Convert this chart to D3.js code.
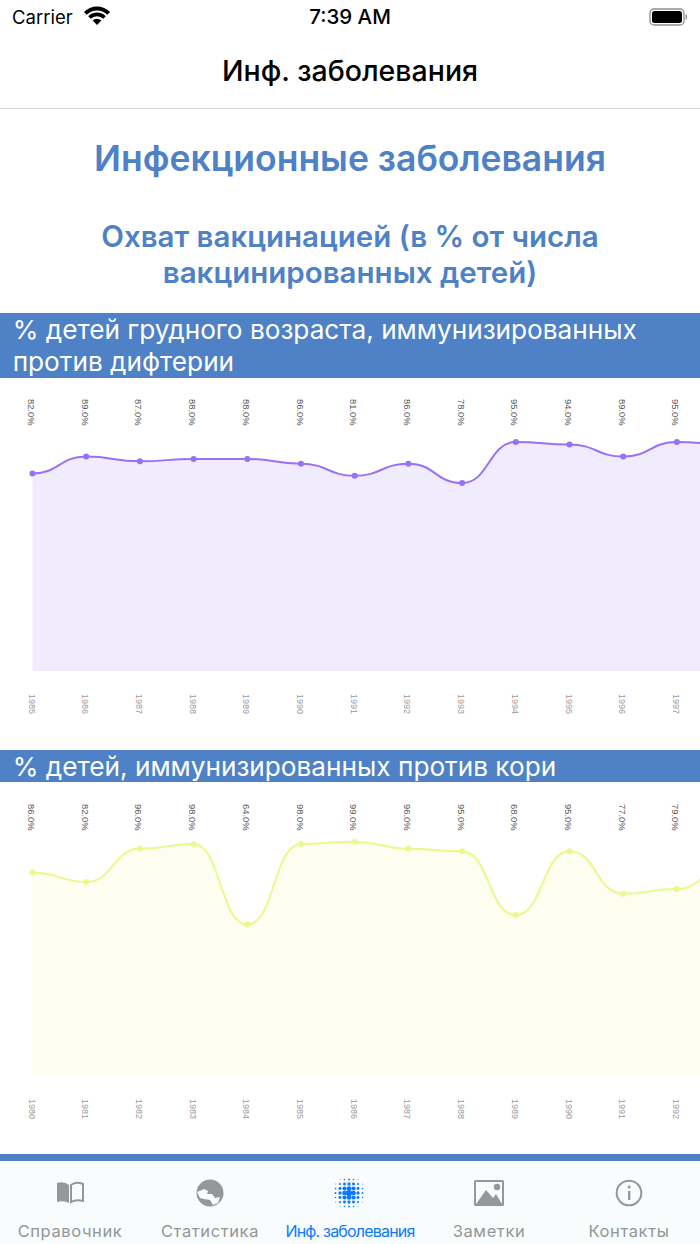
<!DOCTYPE html>
<html>
<head>
<meta charset="utf-8">
<script src="https://cdnjs.cloudflare.com/ajax/libs/d3/7.8.5/d3.min.js"></script>
<style>
  html, body { margin: 0; padding: 0; background: #fff; overflow: hidden; }
  svg { display: block; font-family: Inter, Roboto, "Liberation Sans", sans-serif; }
</style>
</head>
<body>
<div id="plot"></div>
<script>
const w = 700;
const h = 1244;

// first chart, last year is off screen
const years1 = [1985, 1986, 1987, 1988, 1989, 1990, 1991, 1992, 1993, 1994, 1995, 1996, 1997, 1998];
const values1 = [82, 89, 87, 88, 88, 86, 81, 86, 78, 95, 94, 89, 95, 94];

// second chart, same thing
const years2 = [1980, 1981, 1982, 1983, 1984, 1985, 1986, 1987, 1988, 1989, 1990, 1991, 1992, 1993];
const values2 = [86, 82, 96, 98, 64, 98, 99, 96, 95, 68, 95, 77, 79, 90];

const tabLabels = ["Справочник", "Статистика", "Инф. заболевания", "Заметки", "Контакты"];
const blue = "#4f81c6";

const svg = d3.select("div#plot")
  .append("svg")
  .attr("width", w)
  .attr("height", h);

// status bar + nav bar
svg.append("text").attr("x", 12).attr("y", 24).attr("font-size", 18.5).attr("fill", "#000").text("Carrier");
svg.append("text").attr("x", 350).attr("y", 24).attr("text-anchor", "middle").attr("font-size", 20.5)
  .attr("font-weight", 500).attr("fill", "#000").text("7:39 AM");
const wifi = svg.append("g").attr("transform", "translate(97, 25)");
[[14.5, 18.5], [8.8, 12.4], [0, 6.2]].forEach(([r0, r1]) => {
  wifi.append("path")
    .attr("d", d3.arc()({ innerRadius: r0, outerRadius: r1, startAngle: -Math.PI / 4, endAngle: Math.PI / 4 }))
    .attr("fill", "#000");
});
svg.append("rect").attr("x", 650).attr("y", 9).attr("width", 34).attr("height", 16).attr("rx", 4)
  .attr("fill", "none").attr("stroke", "#8e8e8e").attr("stroke-width", 1.3);
svg.append("rect").attr("x", 652).attr("y", 11).attr("width", 30).attr("height", 12).attr("rx", 2.5).attr("fill", "#000");
svg.append("rect").attr("x", 685.5).attr("y", 14.5).attr("width", 1.5).attr("height", 5).attr("fill", "#9a9a9a");
svg.append("text").attr("x", 350).attr("y", 81).attr("text-anchor", "middle").attr("font-size", 28.5)
  .attr("font-weight", 500).attr("fill", "#000").text("Инф. заболевания");
svg.append("rect").attr("y", 108).attr("width", w).attr("height", 1).attr("fill", "#d4d4d4");

// headings
svg.append("text").attr("x", 350).attr("y", 171).attr("text-anchor", "middle").attr("font-size", 35.5)
  .attr("font-weight", 600).attr("fill", blue).text("Инфекционные заболевания");
svg.append("text").attr("x", 350).attr("y", 247).attr("text-anchor", "middle").attr("font-size", 29.5)
  .attr("font-weight", 600).attr("fill", blue).text("Охват вакцинацией (в % от числа");
svg.append("text").attr("x", 350).attr("y", 283).attr("text-anchor", "middle").attr("font-size", 29.5)
  .attr("font-weight", 600).attr("fill", blue).text("вакцинированных детей)");

function banner(y, height, lines) {
  svg.append("rect").attr("y", y).attr("width", w).attr("height", height).attr("fill", blue);
  lines.forEach((t, i) => {
    svg.append("text").attr("x", 12.7).attr("y", y + 26 + i * 32).attr("font-size", 26.2)
      .attr("fill", "#fff").text(t);
  });
}
banner(313, 65, ["% детей грудного возраста, иммунизированных", "против дифтерии"]);
banner(750, 32, ["% детей, иммунизированных против кори"]);

function drawChart(years, values, opt) {
  const xScale = d3.scaleLinear()
    .domain(d3.extent(years))
    .range([32.5, 32.5 + (years.length - 1) * 53.7]);
  const yScale = d3.scaleLinear()
    .domain([0, 100])
    .range([opt.base, opt.base - 100 * opt.k]);
  const pts = years.map((y, i) => ({ year: y, v: values[i] }));
  // labels only for what fits in the window
  const shown = pts.filter(d => xScale(d.year) < w);

  svg.append("path").datum(pts)
    .attr("d", d3.area().curve(d3.curveBumpX).x(d => xScale(d.year)).y0(yScale(0)).y1(d => yScale(d.v)))
    .attr("fill", opt.fill);
  svg.append("path").datum(pts)
    .attr("d", d3.line().curve(d3.curveBumpX).x(d => xScale(d.year)).y(d => yScale(d.v)))
    .attr("fill", "none").attr("stroke", opt.color).attr("stroke-width", 2);
  svg.append("g").selectAll("circle").data(pts).enter().append("circle")
    .attr("cx", d => xScale(d.year)).attr("cy", d => yScale(d.v)).attr("r", 3).attr("fill", opt.color);

  // value labels run downwards
  svg.append("g").selectAll("text").data(shown).enter().append("text")
    .attr("transform", d => `translate(${xScale(d.year) - 4.5}, ${opt.valueY}) rotate(90)`)
    .attr("font-family", "'Liberation Sans', sans-serif")
    .attr("font-size", 9.4).attr("fill", "#5a5a5a")
    .text(d => d3.format(".1f")(d.v) + "%");

  const xAxis = d3.axisBottom(xScale).tickValues(shown.map(d => d.year)).tickFormat(d3.format("d")).tickSize(0);
  const axisG = svg.append("g").attr("transform", `translate(0, ${opt.yearY})`).call(xAxis);
  axisG.select(".domain").remove();
  axisG.selectAll("text")
    .attr("transform", "rotate(90)")
    .attr("x", 0).attr("y", 4.5).attr("dy", 0)
    .attr("text-anchor", "start")
    .attr("font-size", 9)
    .attr("font-family", "'Liberation Sans', sans-serif")
    .attr("fill", "#9a9a9a");
}

drawChart(years1, values1, { base: 671, k: 2.41, color: "#9a70f5", fill: "#f0ebfd", valueY: 399, yearY: 694 });
drawChart(years2, values2, { base: 1076, k: 2.367, color: "#e9f98a", fill: "#fdfdf0", valueY: 804, yearY: 1099 });

// third section, mostly behind the tab bar
svg.append("rect").attr("y", 1154).attr("width", w).attr("height", 10).attr("fill", blue);

// tab bar
svg.append("rect").attr("y", 1161).attr("width", w).attr("height", 83).attr("fill", "#f8fcfd");
const tabX = [70, 210, 350, 489, 629];
svg.append("g").selectAll("text").data(tabLabels).enter().append("text")
  .attr("x", (d, i) => tabX[i]).attr("y", 1237).attr("text-anchor", "middle")
  .attr("font-size", (d, i) => i === 2 ? 16 : 16.5)
  .attr("letter-spacing", (d, i) => i === 2 ? -0.8 : 0.6)
  .attr("fill", (d, i) => i === 2 ? "#0a7aff" : "#929696")
  .text(d => d);

const grey = "#949898";
// book
svg.append("path")
  .attr("d", "M71 1185 Q76 1181 83 1184 L83 1201 Q76 1199 71 1202 Z")
  .attr("fill", "none").attr("stroke", grey).attr("stroke-width", 2);
svg.append("path").attr("d", "M57 1183 Q64 1181 69 1185 L69 1203 Q64 1200 57 1202 Z").attr("fill", grey);
// globe, the light band is the land gap
svg.append("circle").attr("cx", 210).attr("cy", 1193).attr("r", 13.5).attr("fill", grey);
svg.append("path").attr("d", "M197 1192 L204 1189 L208 1191 L207 1194 L212 1194 L215 1198 L220 1197 L218 1203 L213 1205 L210 1200 L204 1199 L200 1198 Z").attr("fill", "#f8fcfd");
// dots
const dotOffsets = [-13.5, -9, -4.5, 0, 4.5, 9, 13.5];
dotOffsets.forEach(dx => dotOffsets.forEach(dy => {
  const r = 3.1 - Math.sqrt(dx * dx + dy * dy) / 6.2;
  if (r > 0.3) svg.append("circle").attr("cx", 349 + dx).attr("cy", 1193 + dy).attr("r", r).attr("fill", "#0a7aff");
}));
// picture
svg.append("rect").attr("x", 474).attr("y", 1180).attr("width", 30).attr("height", 26).attr("rx", 1.5).attr("fill", grey);
svg.append("rect").attr("x", 476).attr("y", 1182).attr("width", 26).attr("height", 22).attr("fill", "#f8fcfd");
svg.append("path").attr("d", "M476 1204 L486 1190 L493 1198 L496 1194 L502 1204 Z").attr("fill", grey);
svg.append("circle").attr("cx", 497).attr("cy", 1187).attr("r", 3.2).attr("fill", grey);
// info
svg.append("circle").attr("cx", 629).attr("cy", 1193).attr("r", 12.3).attr("fill", "none").attr("stroke", grey).attr("stroke-width", 2);
svg.append("rect").attr("x", 628).attr("y", 1191).attr("width", 2.4).attr("height", 9).attr("fill", grey);
svg.append("circle").attr("cx", 629.2).attr("cy", 1187).attr("r", 1.5).attr("fill", grey);
</script>
</body>
</html>
